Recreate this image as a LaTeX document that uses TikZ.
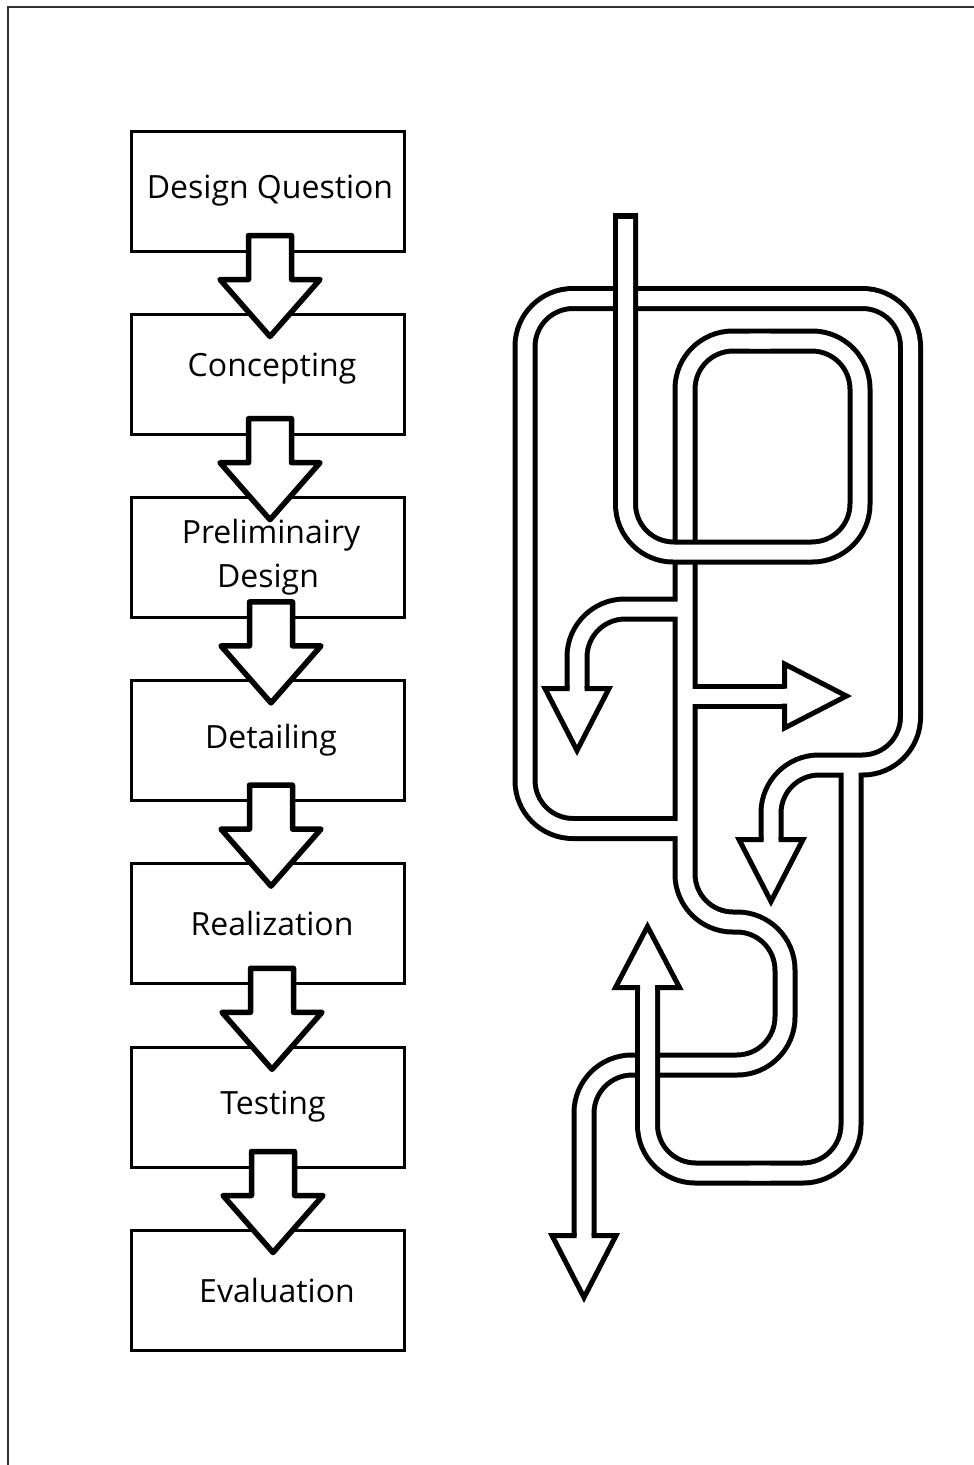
\documentclass[tikz,border=0pt]{standalone}
\usepackage{fontspec}
\setmainfont{Open Sans}
\usetikzlibrary{positioning,calc}

\begin{document}
\begin{tikzpicture}[x=1pt,y=-1pt,
      box/.style={draw,line width=3pt,minimum width=273pt,minimum height=120pt,inner sep=0pt,align=center,font=\fontsize{32}{44}\selectfont},
      barrow/.style={draw,fill=white,line width=5.5pt,line join=round},
      pipe/.style={rounded corners=48pt},
      head/.style={draw,fill=white,line width=5pt,line join=miter}]
    \useasboundingbox (0,0) rectangle (974,1465);
    \draw[line width=2pt,black!80] (8,1465) -- (8,7) -- (974,7);

    % linear design process
    \node[box] (dq)  at (268,191)   {\hspace*{4pt}Design Question};
    \node[box] (con) at (268,374.2) {\raisebox{6pt}[\height][\depth]{\hspace*{8pt}Concepting}};
    \node[box] (pre) at (268,557.4) {\hspace*{6pt}Preliminairy\\Design};
    \node[box] (det) at (268,740.6) {\hspace*{6pt}Detailing};
    \node[box] (rea) at (268,923.8) {\hspace*{8pt}Realization};
    \node[box] (tes) at (268,1107)  {\hspace*{10pt}Testing};
    \node[box] (eva) at (268,1290.2) {\hspace*{18pt}Evaluation};
    \filldraw[barrow] ($(dq.south)+(-19.5,-17)$) -- ++(43,0) -- ++(0,44) -- ++(28.5,0) -- ++(-50,57) -- ++(-50,-57) -- ++(28.5,0) -- cycle;
    \filldraw[barrow] ($(con.south)+(-19.5,-17)$) -- ++(43,0) -- ++(0,44) -- ++(28.5,0) -- ++(-50,57) -- ++(-50,-57) -- ++(28.5,0) -- cycle;
    \filldraw[barrow] ($(pre.south)+(-18.5,-17)$) -- ++(43,0) -- ++(0,44) -- ++(28.5,0) -- ++(-50,57) -- ++(-50,-57) -- ++(28.5,0) -- cycle;
    \filldraw[barrow] ($(det.south)+(-18.5,-17)$) -- ++(43,0) -- ++(0,44) -- ++(28.5,0) -- ++(-50,57) -- ++(-50,-57) -- ++(28.5,0) -- cycle;
    \filldraw[barrow] ($(rea.south)+(-17.5,-17)$) -- ++(43,0) -- ++(0,44) -- ++(28.5,0) -- ++(-50,57) -- ++(-50,-57) -- ++(28.5,0) -- cycle;
    \filldraw[barrow] ($(tes.south)+(-16.5,-17)$) -- ++(43,0) -- ++(0,44) -- ++(28.5,0) -- ++(-50,57) -- ++(-50,-57) -- ++(28.5,0) -- cycle;

    % iterative process: joined pipes (outline first, then inside)
    \foreach \w/\c in {25/black,15/white}{
      \draw[pipe,line width=\w pt,draw=\c] (770,341) -- (685,341) -- (685,922) -- (785,922) -- (785,1065) -- (584,1065) -- (584,1238);
      \draw[pipe,line width=\w pt,draw=\c] (685,609) -- (577,609) -- (577,691);
      \draw[pipe,line width=\w pt,draw=\c] (685,696) -- (787,696);
      \draw[pipe,line width=\w pt,draw=\c] (685,828.5) -- (525,828.5) -- (525,298.5) -- (910.5,298.5) -- (910.5,765) -- (771,765) -- (771,842);
      \draw[pipe,line width=\w pt,draw=\c] (851,765) -- (851,1173) -- (750,1173);
    }
    % feedback pipe, over the trunk
    \draw[pipe,line width=25pt] (750,1173) -- (647.5,1173) -- (647.5,985);
    \draw[pipe,line width=15pt,white] (770,1173) -- (647.5,1173) -- (647.5,985);
    % entry pipe with closed top, over everything
    \draw[pipe,line width=25pt] (625.5,213) -- (625.5,552) -- (860,552) -- (860,341) -- (770,341);
    \draw[pipe,line width=15pt,white] (625.5,219) -- (625.5,552) -- (860,552) -- (860,341) -- (750,341);

    % arrow heads
    \filldraw[head] (569.5,688.5) -- (545,688.5) -- (577,750.5) -- (609,688.5) -- (584.5,688.5);
    \filldraw[head] (784.5,688.5) -- (784.5,664) -- (846.5,696) -- (784.5,728) -- (784.5,703.5);
    \filldraw[head] (763.5,839.5) -- (739,839.5) -- (771,901.5) -- (803,839.5) -- (778.5,839.5);
    \filldraw[head] (640,987.5) -- (615.5,987.5) -- (647.5,926.5) -- (679.5,987.5) -- (655,987.5);
    \filldraw[head] (576.5,1235.5) -- (552,1235.5) -- (584,1297.5) -- (616,1235.5) -- (591.5,1235.5);
\end{tikzpicture}
\end{document}
